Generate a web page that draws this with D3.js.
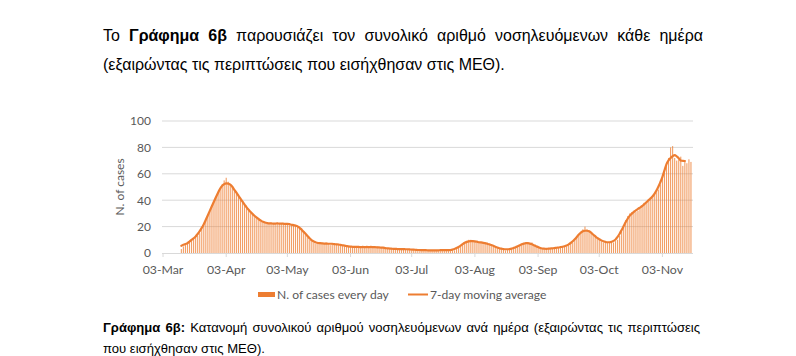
<!DOCTYPE html>
<html><head><meta charset="utf-8">
<script src="https://cdn.jsdelivr.net/npm/d3@7"></script>
<style>body{margin:0;background:#fff;} svg{display:block}</style>
</head><body><svg id="c" width="796" height="356"></svg>
<script>
// ---------------- DATA ----------------
const firstDay = "2020-03-12";           // first daily value
const dailyCases = [
  3, 5, 6, 8, 9, 10, 11,          // Mar 12-18
  12, 13, 15, 18, 22, 25, 28,     // Mar 19-25
  32, 36, 39, 43, 46, 49, 52,     // Mar 26-Apr 1
  55, 57, 54, 52, 50, 48, 46,     // Apr 2-8
  44, 41, 39, 36, 34, 32, 31,     // Apr 9-15
  29, 28, 27, 25, 24, 23, 23,     // Apr 16-22
  22, 22, 23, 22, 22, 23, 22,     // Apr 23-29
  22, 23, 22, 22, 21, 22, 22,     // Apr 30-May 6
  21, 20, 20, 19, 17, 14, 12,     // May 7-13
  10, 9, 8, 7, 7, 8, 7,           // May 14-20
  7, 8, 7, 6, 7, 7, 7,            // May 21-27
  7, 6, 6, 5, 5, 5, 5,            // May 28-Jun 3
  5, 4, 5, 4, 5, 4, 5,            // Jun 4-10
  4, 5, 4, 5, 4, 5, 4,            // Jun 11-17
  4, 4, 4, 3, 4, 3, 3,            // Jun 18-24
  3, 3, 3, 3, 3, 3, 3,            // Jun 25-Jul 1
  3, 2, 3, 2, 2, 3, 2,            // Jul 2-8
  2, 2, 2, 2, 2, 2, 2,            // Jul 9-15
  2, 2, 2, 2, 3, 2, 2,            // Jul 16-22
  2, 2, 3, 4, 6, 7, 8,            // Jul 23-29
  9, 10, 10, 9, 9, 8, 8,          // Jul 30-Aug 5
  8, 8, 7, 8, 7, 6, 5,            // Aug 6-12
  5, 4, 3, 3, 3, 2, 3,            // Aug 13-19
  3, 3, 3, 4, 5, 6, 7,            // Aug 20-26
  8, 8, 8, 7, 8, 6, 5,            // Aug 27-Sep 2
  4, 3, 3, 3, 3, 3, 4,            // Sep 3-9
  3, 4, 4, 4, 4, 5, 5,            // Sep 10-16
  5, 6, 7, 8, 10, 12, 14,         // Sep 17-23
  16, 18, 20, 18, 17, 15, 14,     // Sep 24-30
  13, 11, 10, 9, 8, 8, 8,         // Oct 1-7
  8, 8, 8, 9, 10, 13, 16,         // Oct 8-14
  21, 25, 28, 30, 31, 32, 31,     // Oct 15-21
  32, 34, 36, 38, 38, 39, 41,     // Oct 22-28
  42, 44, 46, 48, 52, 57, 62,     // Oct 29-Nov 4
  67, 72, 80, 81, 72, 70, 71,     // Nov 5-11
  73, 66, 70, 68, 71, 69          // Nov 12-17
];
const maWindow = 7;
const tickDates = ["2020-03-03","2020-04-03","2020-05-03","2020-06-03","2020-07-03","2020-08-03","2020-09-03","2020-10-03","2020-11-03"];
const tickLabels = ["03-Mar","03-Apr","03-May","03-Jun","03-Jul","03-Aug","03-Sep","03-Oct","03-Nov"];
const yTicks = [0, 20, 40, 60, 80, 100];
const seriesNames = ["N. of cases every day", "7-day moving average"];
const yTitle = "N. of cases";
const introLine1 = [["Το", false], ["Γράφημα", true], ["6β", true], ["παρουσιάζει", false], ["τον", false], ["συνολικό", false], ["αριθμό", false], ["νοσηλευόμενων", false], ["κάθε", false], ["ημέρα", false]];
const introLine2 = "(εξαιρώντας τις περιπτώσεις που εισήχθησαν στις ΜΕΘ).";
const captionLine1 = [["Γράφημα", true], ["6β:", true], ["Κατανομή", false], ["συνολικού", false], ["αριθμού", false], ["νοσηλευόμενων", false], ["ανά", false], ["ημέρα", false], ["(εξαιρώντας", false], ["τις", false], ["περιπτώσεις", false]];
const captionLine2 = "που εισήχθησαν στις ΜΕΘ).";

// ---------------- DRAW ----------------
const svg = d3.select("#c");
const ORANGE = "#ED7D31", GRID = "#d9d9d9", LABEL = "#595959";
const chartFont = "Lato, 'Open Sans', sans-serif";
const docFont = "'Liberation Sans', Arial, sans-serif";

const parse = d3.utcParse("%Y-%m-%d");
const d0 = parse(firstDay);
const data = dailyCases.map((v, i) => ({date: d3.utcDay.offset(d0, i), v}));
const half = Math.floor(maWindow / 2);
const ma = data.slice(0, data.length - half).map((d, i) => {
  const w = dailyCases.slice(Math.max(0, i - half), i + half + 1);
  return {date: d.date, v: d3.mean(w)};
});

const x = d3.scaleUtc()
  .domain([new Date(Date.UTC(2020, 2, 2, 12)), new Date(Date.UTC(2020, 10, 18))])
  .range([162, 693]);
const y = d3.scaleLinear().domain([0, 100]).range([253, 121]);

// gridlines
svg.append("g").selectAll("line").data(yTicks.filter(t => t > 0)).join("line")
  .attr("x1", x.range()[0]).attr("x2", x.range()[1])
  .attr("y1", d => y(d)).attr("y2", d => y(d))
  .attr("stroke", GRID).attr("stroke-width", 1);

// y labels
svg.append("g").selectAll("text").data(yTicks).join("text")
  .attr("x", 151).attr("y", d => y(d) + 4.3)
  .attr("text-anchor", "end").attr("font-family", chartFont).attr("font-size", 12)
  .attr("fill", LABEL).text(d => d);

// y title
svg.append("text")
  .attr("transform", `translate(124,${(y(0) + y(100)) / 2}) rotate(-90)`)
  .attr("text-anchor", "middle").attr("font-family", chartFont).attr("font-size", 12)
  .attr("fill", LABEL).text(yTitle);

// bars
svg.append("g").selectAll("rect").data(data).join("rect")
  .attr("x", d => x(d.date) - 0.55).attr("width", 1.1)
  .attr("y", d => y(d.v)).attr("height", d => y(0) - y(d.v))
  .attr("fill", ORANGE).attr("fill-opacity", 0.75);

// x axis
svg.append("line").attr("x1", x.range()[0]).attr("x2", x.range()[1])
  .attr("y1", y(0) + 0.5).attr("y2", y(0) + 0.5).attr("stroke", GRID);
const td = tickDates.map(parse);
svg.append("g").selectAll("line").data(td).join("line")
  .attr("x1", d => x(d)).attr("x2", d => x(d))
  .attr("y1", y(0)).attr("y2", y(0) + 4).attr("stroke", GRID);
svg.append("g").selectAll("text").data(td).join("text")
  .attr("x", d => x(d)).attr("y", 273.5)
  .attr("text-anchor", "middle").attr("font-family", chartFont).attr("font-size", 12.3)
  .attr("fill", LABEL).text((d, i) => tickLabels[i]);

// moving average line
svg.append("path").datum(ma)
  .attr("d", d3.line().x(d => x(d.date)).y(d => y(d.v)).curve(d3.curveMonotoneX))
  .attr("fill", "none").attr("stroke", ORANGE).attr("stroke-width", 2.2)
  .attr("stroke-linejoin", "round").attr("stroke-linecap", "round");

// legend
const lg = svg.append("g").attr("font-family", chartFont).attr("font-size", 12.1).attr("fill", LABEL);
lg.append("rect").attr("x", 258).attr("y", 292).attr("width", 17).attr("height", 5).attr("fill", ORANGE);
lg.append("text").attr("x", 277).attr("y", 299).text(seriesNames[0]);
lg.append("line").attr("x1", 408).attr("x2", 428).attr("y1", 294.5).attr("y2", 294.5)
  .attr("stroke", ORANGE).attr("stroke-width", 2);
lg.append("text").attr("x", 430).attr("y", 299).text(seriesNames[1]);

// document text
function justify(words, x0, x1, yb, size) {
  const g = svg.append("g").attr("font-family", docFont).attr("font-size", size).attr("fill", "#000");
  const nodes = words.map(([w, b]) => g.append("text").attr("y", yb).attr("font-weight", b ? "bold" : "normal").text(w));
  const widths = nodes.map(n => n.node().getComputedTextLength());
  const gap = (x1 - x0 - d3.sum(widths)) / (words.length - 1);
  let cx = x0;
  nodes.forEach((n, i) => { n.attr("x", cx); cx += widths[i] + gap; });
}
function plain(str, x0, yb, size, targetW) {
  const t = svg.append("text").attr("x", x0).attr("y", yb).attr("font-family", docFont)
    .attr("font-size", size).attr("fill", "#000").text(str);
  if (targetW) {
    const w = t.node().getComputedTextLength();
    t.attr("font-size", size * targetW / w);
    return size * targetW / w;
  }
  return size;
}
const fsIntro = plain(introLine2, 103, 70, 15, 402);
justify(introLine1, 103, 703, 41, fsIntro);
const fsCap = plain(captionLine2, 103, 353, 13, 162);
justify(captionLine1, 103, 700, 332, fsCap);
</script></body></html>
